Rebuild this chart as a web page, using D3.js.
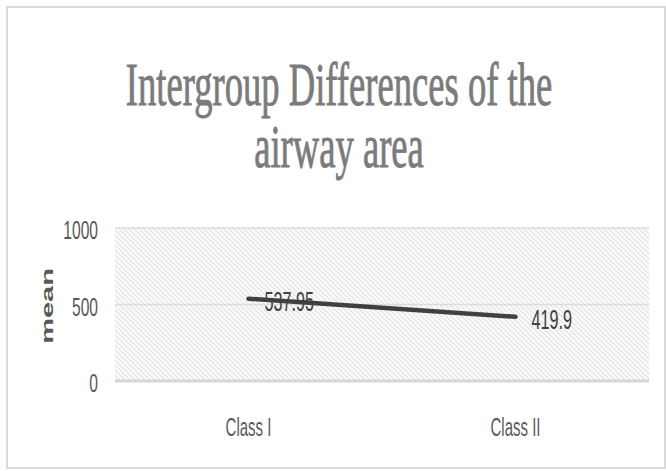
<!DOCTYPE html>
<html>
<head>
<meta charset="utf-8">
<script src="https://cdn.jsdelivr.net/npm/d3@7"></script>
<style>
  html, body { margin: 0; padding: 0; background: #fff; }
  svg { display: block; }
</style>
</head>
<body>
<svg id="chart" width="666" height="471"></svg>
<script>
// ---- data ----
const categories = ["Class I", "Class II"];
const meanValues = [537.95, 419.9];
const dataLabels = ["537.95", "419.9"];
const yTicks = [0, 500, 1000];
const titleLines = ["Intergroup Differences of the", "airway area"];
const yAxisTitle = "mean";

// ---- layout ----
const W = 666, H = 471;
const plot = { left: 115, right: 649, top: 228, bottom: 381 };
const SX = 0.6; // horizontal condensing of all text (as in the reference)

const svg = d3.select("#chart");

// chart frame
svg.append("rect")
  .attr("x", 7).attr("y", 7).attr("width", 658).attr("height", 461)
  .attr("fill", "#fff").attr("stroke", "#dadada").attr("stroke-width", 2);

// scales
const x = d3.scaleBand().domain(categories).range([plot.left, plot.right]).padding(0);
const xc = d => x(d) + x.bandwidth() / 2;
const y = d3.scaleLinear().domain([0, 1000]).range([plot.bottom, plot.top]);

// hatch pattern
const defs = svg.append("defs");
const pat = defs.append("pattern")
  .attr("id", "hatch").attr("patternUnits", "userSpaceOnUse")
  .attr("width", 5).attr("height", 5);
pat.append("rect").attr("width", 5).attr("height", 5).attr("fill", "#fbfbfb");
pat.append("path")
  .attr("d", "M0,0 L5,5 M-1,4 L1,6 M4,-1 L6,1")
  .attr("stroke", "#e0e0e0").attr("stroke-width", 1.1);

svg.append("rect")
  .attr("x", plot.left).attr("y", y(1000) - 1)
  .attr("width", plot.right - plot.left).attr("height", y(0) - y(1000) + 1)
  .attr("fill", "url(#hatch)");

// gridlines
svg.append("g").selectAll("line")
  .data(yTicks.filter(t => t > 0))
  .join("line")
  .attr("x1", plot.left).attr("x2", plot.right)
  .attr("y1", d => y(d)).attr("y2", d => y(d))
  .attr("stroke", "#dcdcdc").attr("stroke-width", 1.5);

// category axis line
svg.append("line")
  .attr("x1", plot.left).attr("x2", plot.right)
  .attr("y1", y(0)).attr("y2", y(0))
  .attr("stroke", "#d6d6d6").attr("stroke-width", 3);

// helper: condensed text
function ctext(g, tx, ty, str, size, opts = {}) {
  const t = g.append("text")
    .attr("transform", `translate(${tx},${ty}) scale(${SX},1)`)
    .attr("font-family", opts.family || "'Liberation Sans', Arial, sans-serif")
    .attr("font-size", size)
    .attr("font-weight", opts.weight || "normal")
    .attr("fill", opts.fill || "#595959")
    .attr("text-anchor", opts.anchor || "middle")
    .attr("dominant-baseline", opts.baseline || "central")
    .text(str);
  if (opts.stroke) t.attr("stroke", opts.fill).attr("stroke-width", opts.stroke);
  return t;
}

// y tick labels
const yAxisG = svg.append("g");
yTicks.forEach(t => ctext(yAxisG, 98, y(t) + 3, String(t), 26, { anchor: "end" }));

// x category labels
const xAxisG = svg.append("g");
categories.forEach(c => ctext(xAxisG, xc(c), 427, c, 25));

// y axis title (rotated, bold)
svg.append("text")
  .attr("transform", `translate(47,306) scale(${SX},1) rotate(-90)`)
  .attr("font-family", "'Liberation Sans', Arial, sans-serif")
  .attr("font-size", 29)
  .attr("font-weight", "bold")
  .attr("fill", "#595959")
  .attr("text-anchor", "middle")
  .attr("dominant-baseline", "central")
  .text(yAxisTitle);

// the line
const lineGen = d3.line().x((d, i) => xc(categories[i])).y(d => y(d));
svg.append("path")
  .datum(meanValues)
  .attr("d", lineGen)
  .attr("fill", "none")
  .attr("stroke", "#404040")
  .attr("stroke-width", 4.5)
  .attr("stroke-linecap", "round");

// data labels
const lblG = svg.append("g");
meanValues.forEach((v, i) =>
  ctext(lblG, xc(categories[i]) + 16, y(v) + 3, dataLabels[i], 27, { anchor: "start", fill: "#404040" }));

// title
const titleG = svg.append("g");
titleLines.forEach((l, i) =>
  ctext(titleG, 339, 105 + i * 62, l, 61, {
    family: "'Liberation Serif', 'Times New Roman', serif",
    fill: "#7b7b7b", baseline: "alphabetic", stroke: 0.9
  }));
</script>
</body>
</html>
